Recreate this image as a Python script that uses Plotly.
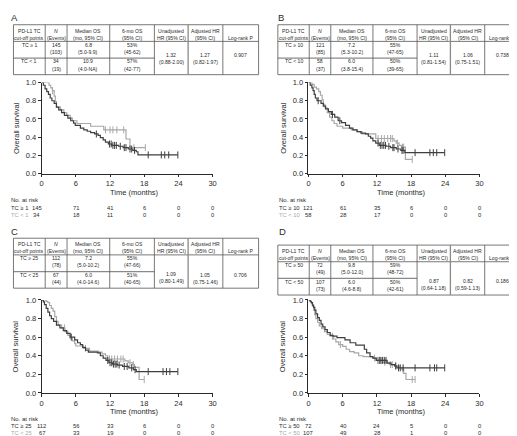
import numpy as np
import plotly.graph_objects as go

W, H = 517, 436
FONT = "Arial, Liberation Sans, Helvetica, sans-serif"
DARK = "#3f3f3f"
LIGHT = "#a8a8a8"
TXT = "#2b2b2b"
GRIDC = "#555555"

# ---------------- data ----------------
month_ticks = [0, 6, 12, 18, 24, 30]
surv_ticks = [0.0, 0.2, 0.4, 0.6, 0.8, 1.0]

tbl_header = ["PD-L1 TC<br>cut-off points", "<i>N</i><br>(Events)", "Median OS<br>(mo, 95% CI)",
              "6-mo OS<br>(95% CI)", "Unadjusted<br>HR (95% CI)", "Adjusted HR<br>(95% CI)", "Log-rank P"]

# Panel A : TC >= 1 vs TC < 1
a_labels = ["TC \u2265 1", "TC < 1"]
a_n = [145, 34]
a_events = [103, 19]
a_median = ["6.8", "10.9"]
a_median_ci = ["5.0-9.9", "4.0-NA"]
a_os6 = ["53%", "57%"]
a_os6_ci = ["45-62", "42-77"]
a_hr = ["1.32", "0.88-2.00"]
a_ahr = ["1.27", "0.82-1.97"]
a_p = "0.907"
a_risk_hi = [145, 71, 41, 6, 0, 0]
a_risk_lo = [34, 18, 11, 0, 0, 0]
a_hi_t = [0, 0.3, 0.6, 0.9, 1.2, 1.5, 1.8, 2.2, 2.6, 3.0, 3.5, 4.0, 4.6, 5.1, 5.6, 5.9, 6.8, 7.4, 8.0, 8.6,
          9.3, 9.9, 10.3, 10.8, 11.2, 11.7, 12.3, 13.5, 14.3, 15.2, 16.0, 16.6, 16.9]
a_hi_s = [1.0, 0.97, 0.93, 0.90, 0.87, 0.83, 0.80, 0.77, 0.73, 0.70, 0.67, 0.64, 0.61, 0.58, 0.555, 0.53, 0.50,
          0.48, 0.465, 0.45, 0.435, 0.42, 0.395, 0.37, 0.345, 0.325, 0.31, 0.30, 0.285, 0.27, 0.255, 0.24, 0.205]
a_hi_c = [9.6, 11.9, 12.2, 12.5, 12.8, 13.1, 13.8, 14.5, 14.8, 15.5, 15.8, 16.3, 18.7, 21.0, 21.6, 22.3, 23.9]
a_lo_t = [0, 1.3, 1.6, 1.9, 2.2, 2.4, 2.6, 3.3, 3.9, 4.4, 5.0, 5.4, 6.2, 8.6, 10.9, 14.8, 15.5]
a_lo_s = [1.0, 0.97, 0.94, 0.91, 0.85, 0.79, 0.73, 0.70, 0.67, 0.64, 0.61, 0.58, 0.55, 0.52, 0.48, 0.38, 0.285]
a_lo_c = [1.9, 11.2, 12.0, 12.5, 13.2, 14.4, 16.2, 18.2]

# Panel B : TC >= 10 vs TC < 10
b_labels = ["TC \u2265 10", "TC < 10"]
b_n = [121, 58]
b_events = [85, 37]
b_median = ["7.2", "6.0"]
b_median_ci = ["5.3-10.2", "3.8-15.4"]
b_os6 = ["55%", "50%"]
b_os6_ci = ["47-65", "39-65"]
b_hr = ["1.11", "0.81-1.54"]
b_ahr = ["1.06", "0.75-1.51"]
b_p = "0.738"
b_risk_hi = [121, 61, 35, 6, 0, 0]
b_risk_lo = [58, 28, 17, 0, 0, 0]
b_hi_t = [0, 0.3, 0.6, 0.8, 1.0, 1.2, 1.5, 2.2, 2.6, 3.0, 3.5, 4.0, 4.6, 5.2, 5.8, 6.5, 7.2, 7.8, 8.5, 9.2,
          10.0, 10.5, 10.9, 11.3, 11.8, 12.4, 13.6, 14.4, 15.4, 16.2, 16.9]
b_hi_s = [1.0, 0.97, 0.94, 0.91, 0.87, 0.83, 0.80, 0.77, 0.74, 0.71, 0.68, 0.65, 0.62, 0.58, 0.56, 0.53, 0.50,
          0.48, 0.46, 0.445, 0.435, 0.41, 0.39, 0.36, 0.335, 0.31, 0.30, 0.285, 0.27, 0.255, 0.23]
b_hi_c = [1.7, 4.2, 5.5, 12.2, 12.6, 12.9, 13.2, 13.5, 14.1, 14.8, 15.0, 15.7, 16.4, 16.6, 18.7, 21.3, 21.9,
          22.5, 23.9]
b_lo_t = [0, 0.6, 1.0, 1.4, 1.8, 2.1, 2.4, 2.6, 2.9, 3.3, 3.7, 4.1, 4.5, 5.0, 6.0, 7.5, 8.6, 9.4, 11.8, 15.0,
          15.4, 15.9, 16.3, 17.0]
b_lo_s = [1.0, 0.98, 0.95, 0.93, 0.90, 0.86, 0.81, 0.76, 0.72, 0.67, 0.62, 0.58, 0.55, 0.52, 0.50, 0.48, 0.46,
          0.435, 0.385, 0.36, 0.335, 0.31, 0.29, 0.155]
b_lo_c = [12.2, 12.8, 13.3, 13.9, 14.4, 14.7, 15.6, 16.5, 16.7, 18.2]

# Panel C : TC >= 25 vs TC < 25
c_labels = ["TC \u2265 25", "TC < 25"]
c_n = [112, 67]
c_events = [78, 44]
c_median = ["7.2", "6.0"]
c_median_ci = ["5.0-10.2", "4.0-14.6"]
c_os6 = ["55%", "51%"]
c_os6_ci = ["47-66", "40-65"]
c_hr = ["1.09", "0.80-1.49"]
c_ahr = ["1.05", "0.75-1.46"]
c_p = "0.706"
c_risk_hi = [112, 56, 33, 6, 0, 0]
c_risk_lo = [67, 33, 19, 0, 0, 0]
c_hi_t = [0, 0.3, 0.5, 0.8, 1.1, 1.4, 1.7, 2.1, 2.6, 3.2, 3.8, 4.4, 5.0, 5.8, 6.3, 6.8, 7.2, 7.7, 8.2, 9.8,
          10.3, 10.8, 11.3, 11.8, 12.4, 13.3, 14.2, 15.3, 16.1, 16.6]
c_hi_s = [1.0, 0.98, 0.95, 0.91, 0.87, 0.83, 0.80, 0.77, 0.73, 0.70, 0.67, 0.64, 0.60, 0.57, 0.54, 0.52, 0.49,
          0.46, 0.44, 0.43, 0.40, 0.375, 0.35, 0.325, 0.31, 0.30, 0.285, 0.27, 0.25, 0.23]
c_hi_c = [5.2, 11.6, 12.0, 12.3, 12.6, 12.9, 13.2, 13.6, 14.5, 15.0, 15.8, 16.4, 18.7, 21.3, 21.9, 22.5, 23.9]
c_lo_t = [0, 0.8, 1.1, 1.4, 1.7, 2.0, 2.3, 2.6, 2.9, 3.5, 4.1, 4.6, 5.0, 5.4, 5.8, 6.0, 7.3, 8.4, 10.0, 10.6,
          11.2, 11.6, 14.6, 15.2, 15.9, 16.3, 17.1]
c_lo_s = [1.0, 0.985, 0.97, 0.94, 0.91, 0.88, 0.82, 0.77, 0.73, 0.70, 0.66, 0.62, 0.59, 0.56, 0.53, 0.505, 0.48,
          0.45, 0.44, 0.42, 0.40, 0.365, 0.345, 0.325, 0.305, 0.275, 0.145]
c_lo_c = [4.0, 7.7, 11.9, 12.3, 12.8, 13.3, 13.9, 14.3, 15.5, 16.1, 18.0]

# Panel D : TC >= 50 vs TC < 50
d_labels = ["TC \u2265 50", "TC < 50"]
d_n = [72, 107]
d_events = [49, 73]
d_median = ["9.8", "6.0"]
d_median_ci = ["5.0-12.0", "4.6-8.8"]
d_os6 = ["59%", "50%"]
d_os6_ci = ["48-72", "42-61"]
d_hr = ["0.87", "0.64-1.18"]
d_ahr = ["0.82", "0.59-1.13"]
d_p = "0.186"
d_risk_hi = [72, 40, 24, 5, 0, 0]
d_risk_lo = [107, 49, 28, 1, 0, 0]
d_hi_t = [0, 0.3, 0.5, 0.7, 0.9, 1.1, 1.3, 1.6, 1.9, 2.2, 2.5, 2.9, 3.3, 3.8, 4.3, 5.0, 6.4, 7.3, 8.3, 9.8,
          10.2, 10.8, 11.3, 11.9, 13.8, 14.5, 15.1, 15.5]
d_hi_s = [1.0, 0.986, 0.97, 0.945, 0.92, 0.89, 0.85, 0.81, 0.78, 0.74, 0.71, 0.68, 0.65, 0.62, 0.61, 0.595,
          0.57, 0.54, 0.515, 0.47, 0.43, 0.39, 0.375, 0.35, 0.32, 0.305, 0.29, 0.27]
d_hi_c = [12.4, 12.7, 13.0, 13.3, 13.6, 15.3, 15.8, 16.1, 16.6, 18.7, 21.3, 22.1, 22.5, 23.9]
d_lo_t = [0, 0.3, 0.5, 0.7, 0.9, 1.1, 1.3, 1.6, 1.9, 2.3, 2.8, 3.3, 3.8, 4.4, 4.8, 5.3, 6.0, 6.6, 7.2, 8.0,
          8.8, 9.6, 11.3, 11.8, 13.0, 14.2, 15.1, 15.9, 16.4, 16.7, 17.1]
d_lo_s = [1.0, 0.98, 0.96, 0.93, 0.89, 0.84, 0.80, 0.76, 0.72, 0.69, 0.66, 0.63, 0.61, 0.58, 0.55, 0.52, 0.50,
          0.47, 0.445, 0.43, 0.40, 0.39, 0.375, 0.35, 0.33, 0.305, 0.29, 0.27, 0.25, 0.21, 0.145]
d_lo_c = [4.2, 5.6, 11.6, 12.1, 12.4, 12.7, 13.4, 14.4, 14.7, 15.3, 16.6, 18.2, 18.7]

# ---------------- layout (pixels) ----------------
panels = [
    dict(letter="A", letter_xy=(5, 6), plot=(32, 205, 72, 165), tbl=(3.5, 248, 13), hr_y=30.5, ylab_x=6,
         risk_x=0, risk_y=(192, 200.5, 207.5), xlab_y=184, first_shift=-5,
         labels=a_labels, n=a_n, ev=a_events, med=a_median, med_ci=a_median_ci, os6=a_os6, os6_ci=a_os6_ci,
         hr=a_hr, ahr=a_ahr, p=a_p, rhi=a_risk_hi, rlo=a_risk_lo,
         hi=(a_hi_t, a_hi_s, a_hi_c), lo=(a_lo_t, a_lo_s, a_lo_c)),
    dict(letter="B", letter_xy=(274, 6), plot=(302, 475, 72, 165), tbl=(271, 245, 13), hr_y=30.5, ylab_x=276,
         risk_x=271, risk_y=(192, 200.5, 207.5), xlab_y=184, first_shift=0,
         labels=b_labels, n=b_n, ev=b_events, med=b_median, med_ci=b_median_ci, os6=b_os6, os6_ci=b_os6_ci,
         hr=b_hr, ahr=b_ahr, p=b_p, rhi=b_risk_hi, rlo=b_risk_lo,
         hi=(b_hi_t, b_hi_s, b_hi_c), lo=(b_lo_t, b_lo_s, b_lo_c)),
    dict(letter="C", letter_xy=(5, 224), plot=(32, 205, 294, 389), tbl=(3.5, 248, 231), hr_y=36.5, ylab_x=6,
         risk_x=0, risk_y=(415.5, 422.5, 429.5), xlab_y=408, first_shift=0,
         labels=c_labels, n=c_n, ev=c_events, med=c_median, med_ci=c_median_ci, os6=c_os6, os6_ci=c_os6_ci,
         hr=c_hr, ahr=c_ahr, p=c_p, rhi=c_risk_hi, rlo=c_risk_lo,
         hi=(c_hi_t, c_hi_s, c_hi_c), lo=(c_lo_t, c_lo_s, c_lo_c)),
    dict(letter="D", letter_xy=(276, 224), plot=(302, 475, 294, 389), tbl=(271, 245, 238), hr_y=36.5,
         ylab_x=276, risk_x=271, risk_y=(415.5, 422.5, 429.5), xlab_y=408, first_shift=0,
         labels=d_labels, n=d_n, ev=d_events, med=d_median, med_ci=d_median_ci, os6=d_os6, os6_ci=d_os6_ci,
         hr=d_hr, ahr=d_ahr, p=d_p, rhi=d_risk_hi, rlo=d_risk_lo,
         hi=(d_hi_t, d_hi_s, d_hi_c), lo=(d_lo_t, d_lo_s, d_lo_c)),
]
COL_FRAC = [0, 32 / 247, 54 / 247, 97 / 247, 142 / 247, 176 / 247, 211 / 247, 1.0]
TBL_FS = 5.1
LINE_GAP = 7.2
RISK_FS = 5.8


def px(v):
    return v / W


def py(v):
    return 1 - v / H


fig = go.Figure()


def line(x0, y0, x1, y1, color=GRIDC, width=0.8):
    fig.add_shape(type="line", xref="paper", yref="paper", x0=px(x0), y0=py(y0), x1=px(x1), y1=py(y1),
                  line=dict(color=color, width=width))


def txt(x, y, s, size, color=TXT, xanchor="center", xref="paper", angle=0, xshift=0):
    fig.add_annotation(x=px(x) if xref == "paper" else x, y=py(y), xref=xref, yref="paper", text=s,
                       showarrow=False, xanchor=xanchor, yanchor="middle", textangle=angle, xshift=xshift,
                       font=dict(family=FONT, size=size, color=color), borderpad=0)


def cell(x, y_first, s):
    for j, part in enumerate(s.split("<br>")):
        txt(x, y_first + j * LINE_GAP, part, TBL_FS)


def step_at(t_arr, s_arr, tc):
    idx = np.searchsorted(np.array(t_arr), np.array(tc), side="right") - 1
    return list(np.array(s_arr)[idx])


layout_axes = {}
for i, p in enumerate(panels):
    xn = "x" if i == 0 else f"x{i + 1}"
    yn = "y" if i == 0 else f"y{i + 1}"
    xl = "xaxis" if i == 0 else f"xaxis{i + 1}"
    yl = "yaxis" if i == 0 else f"yaxis{i + 1}"
    x0, x1, y0, y1 = p["plot"]
    common = dict(showline=True, linecolor=TXT, linewidth=0.8, ticks="outside", ticklen=3, tickwidth=0.8,
                  tickcolor=TXT, showgrid=False, zeroline=False, fixedrange=True,
                  tickfont=dict(family=FONT, size=7.5, color=TXT))
    layout_axes[xl] = dict(domain=[px(x0), px(x1)], range=[0, 30], tickvals=month_ticks, anchor=yn, **common)
    layout_axes[yl] = dict(domain=[py(y1), py(y0)], range=[0, 1], tickvals=surv_ticks, tickformat=".1f",
                           anchor=xn, **common)

    # curves: light first, dark on top
    for (t_arr, s_arr, c_arr), col in ((p["lo"], LIGHT), (p["hi"], DARK)):
        end = max(c_arr)
        fig.add_trace(go.Scatter(x=list(t_arr) + [end], y=list(s_arr) + [s_arr[-1]], mode="lines",
                                 line=dict(color=col, width=1.2, shape="hv"), xaxis=xn, yaxis=yn,
                                 showlegend=False, hoverinfo="skip", cliponaxis=False))
        fig.add_trace(go.Scatter(x=c_arr, y=step_at(t_arr, s_arr, c_arr), mode="markers",
                                 marker=dict(symbol="line-ns-open", size=5, color=col,
                                             line=dict(width=1, color=col)),
                                 xaxis=xn, yaxis=yn, showlegend=False, hoverinfo="skip", cliponaxis=False))

    # panel letter
    txt(p["letter_xy"][0], p["letter_xy"][1], p["letter"], 9.5)
    # axis titles
    txt(p["ylab_x"], (y0 + y1) / 2, "Overall survival", 7.5, angle=-90)
    txt(16.3, p["xlab_y"], "Time (months)", 7.5, xref=xn)

    # table
    tl, tw, tt = p["tbl"]
    cols = [tl + f * tw for f in COL_FRAC]
    rows = [tt, tt + 17, tt + 34, tt + 51]
    for yy in (rows[0], rows[1], rows[3]):
        line(cols[0], yy, cols[-1], yy)
    line(cols[0], rows[2], cols[4], rows[2], color="#8a8a8a", width=1.2)
    for k, xx in enumerate(cols):
        if k == 5:
            line(xx, rows[0], xx, rows[3], color="#8a8a8a", width=1.3)
        else:
            line(xx, rows[0], xx, rows[3])
    cx = [(cols[k] + cols[k + 1]) / 2 for k in range(7)]
    for k in range(6):
        cell(cx[k], tt + 6.3, tbl_header[k])
    cell(cx[6], tt + 13.5, tbl_header[6])
    for r in range(2):
        base = tt + 20.5 + 17 * r
        cell(cx[0], base, p["labels"][r])
        cell(cx[1], base, f"{p['n'][r]}<br>({p['ev'][r]})")
        cell(cx[2], base, f"{p['med'][r]}<br>({p['med_ci'][r]})")
        cell(cx[3], base, f"{p['os6'][r]}<br>({p['os6_ci'][r]})")
    hy = tt + p["hr_y"]
    cell(cx[4], hy, f"{p['hr'][0]}<br>({p['hr'][1]})")
    cell(cx[5], hy + 0.6, f"{p['ahr'][0]}<br>({p['ahr'][1]})")
    cell(cx[6], hy + 0.6, p["p"])

    # number at risk
    ry = p["risk_y"]
    txt(p["risk_x"], ry[0], "No. at risk", 6)
    fig.layout.annotations[-1].xanchor = "left"
    txt(p["risk_x"], ry[1], p["labels"][0], RISK_FS, xanchor="left")
    txt(p["risk_x"], ry[2], p["labels"][1], RISK_FS, color=LIGHT, xanchor="left")
    for k, m in enumerate(month_ticks):
        sh = p["first_shift"] if k == 0 else 0
        txt(m, ry[1], str(p["rhi"][k]), RISK_FS, xref=xn, xshift=sh)
        txt(m, ry[2], str(p["rlo"][k]), RISK_FS, xref=xn, xshift=sh)

fig.update_layout(width=W, height=H, autosize=False, margin=dict(l=0, r=0, t=0, b=0),
                  paper_bgcolor="white", plot_bgcolor="white", showlegend=False, hovermode=False,
                  font=dict(family=FONT, color=TXT), **layout_axes)

fig.write_html("out.html")
